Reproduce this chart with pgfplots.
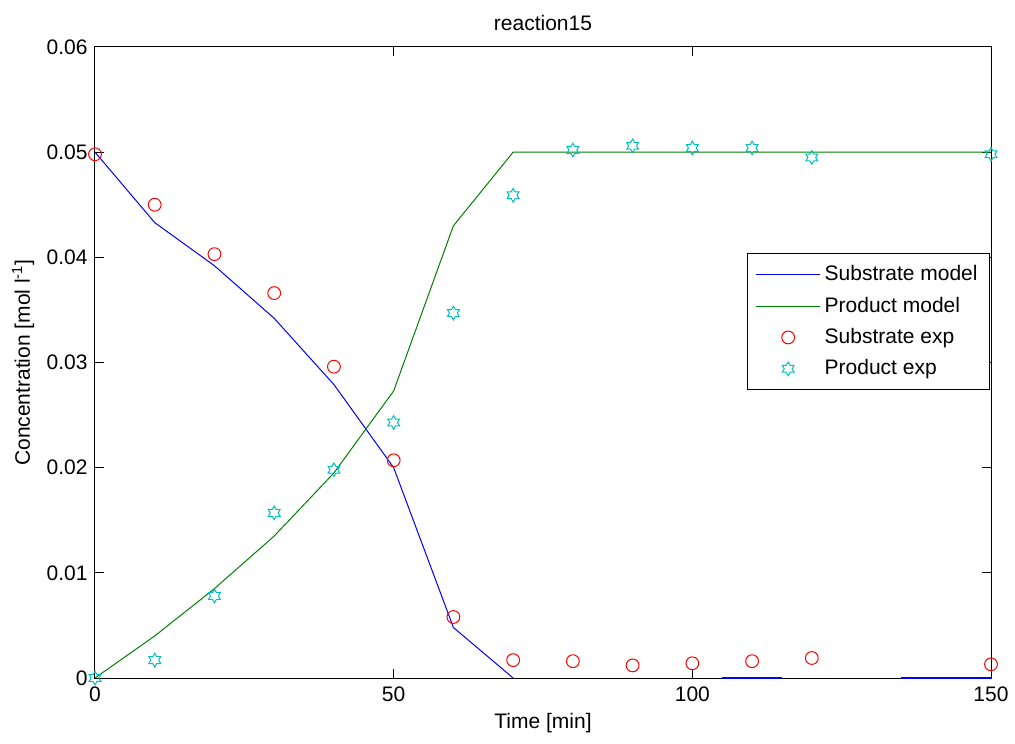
\documentclass[border=0pt]{standalone}
\usepackage{fontspec}
\setmainfont{Liberation Sans}
\usepackage{pgfplots}
\pgfplotsset{compat=1.18}

\definecolor{mblue}{rgb}{0,0,1}
\definecolor{mgreen}{rgb}{0,0.5,0}
\definecolor{mred}{rgb}{1,0,0}
\definecolor{mcyan}{rgb}{0,0.75,0.75}

% six-pointed star outline, like matlab's hexagram marker
\pgfdeclareplotmark{hexagram}{%
  \pgfpathmoveto{\pgfpointpolar{90}{\pgfplotmarksize}}%
  \pgfpathlineto{\pgfpointpolar{120}{0.577\pgfplotmarksize}}%
  \pgfpathlineto{\pgfpointpolar{150}{\pgfplotmarksize}}%
  \pgfpathlineto{\pgfpointpolar{180}{0.577\pgfplotmarksize}}%
  \pgfpathlineto{\pgfpointpolar{210}{\pgfplotmarksize}}%
  \pgfpathlineto{\pgfpointpolar{240}{0.577\pgfplotmarksize}}%
  \pgfpathlineto{\pgfpointpolar{270}{\pgfplotmarksize}}%
  \pgfpathlineto{\pgfpointpolar{300}{0.577\pgfplotmarksize}}%
  \pgfpathlineto{\pgfpointpolar{330}{\pgfplotmarksize}}%
  \pgfpathlineto{\pgfpointpolar{0}{0.577\pgfplotmarksize}}%
  \pgfpathlineto{\pgfpointpolar{30}{\pgfplotmarksize}}%
  \pgfpathlineto{\pgfpointpolar{60}{0.577\pgfplotmarksize}}%
  \pgfpathclose
  \pgfusepathqstroke
}

\begin{document}
\fontsize{10.5}{12}\selectfont
\begin{tikzpicture}
\begin{axis}[
  scale only axis,
  width=448pt, height=315.5pt,
  xmin=0, xmax=150, ymin=0, ymax=0.06,
  xtick={0,50,100,150},
  ytick={0,0.01,0.02,0.03,0.04,0.05,0.06},
  yticklabel style={/pgf/number format/fixed, /pgf/number format/precision=2},
  scaled y ticks=false,
  /pgf/number format/assume math mode=true,
  tick align=inside, major tick length=4.5pt,
  xtick pos=both, ytick pos=both,
  axis line style={black, line width=0.5pt},
  every tick/.style={black, line width=0.5pt},
  tick label style={font=\fontsize{10.5}{12}\selectfont},
  xticklabel style={yshift=-0.5pt},
  yticklabel style={xshift=0pt},
  label style={font=\fontsize{10.5}{12}\selectfont},
  xlabel={Time [min]},
  ylabel={Concentration [mol l\textsuperscript{-1}]},
  xlabel style={yshift=1pt},
  ylabel style={yshift=-1pt},
  title={reaction15},
  title style={font=\fontsize{10.5}{12}\selectfont, yshift=-1.5pt},
  legend style={at={(0.999,0.6735)}, anchor=north east, draw=black,
    line width=0.5pt, font=\fontsize{10.5}{12}\selectfont,
    row sep=2.5pt, inner sep=4pt, cells={anchor=west}},
  legend image code/.code={\draw[mark repeat=2, mark phase=2, #1]
    plot coordinates {(0pt,0pt) (16pt,0pt) (32pt,0pt)};},
  unbounded coords=jump,
  clip=false,
]
\addplot[mblue, line width=0.5pt] coordinates {
  (0,0.0500) (10,0.0433) (20,0.0392) (30,0.0342) (40,0.0279)
  (50,0.0200) (60,0.0048) (70,0.0000)
};
\addlegendentry{Substrate model}
\addplot[mgreen, line width=0.5pt] coordinates {
  (0,0.0000) (10,0.0040) (20,0.0085) (30,0.0135) (40,0.0195)
  (50,0.0273) (60,0.0430) (70,0.0500) (150,0.0500)
};
\addlegendentry{Product model}
\addplot[only marks, mark=o, mark size=3.2pt, mred, line width=0.5pt] coordinates {
  (0,0.0498) (10,0.0450) (20,0.0403) (30,0.0366) (40,0.0296)
  (50,0.0207) (60,0.0058) (70,0.0017) (80,0.0016) (90,0.0012)
  (100,0.0014) (110,0.0016) (120,0.0019) (150,0.0013)
};
\addlegendentry{Substrate exp}
\addplot[only marks, mark=hexagram, mark size=3.4pt, mcyan, line width=0.5pt] coordinates {
  (0,0.0000) (10,0.0017) (20,0.0078) (30,0.0157) (40,0.0198)
  (50,0.0243) (60,0.0347) (70,0.0459) (80,0.0502) (90,0.0506)
  (100,0.0504) (110,0.0504) (120,0.0495) (150,0.0498)
};
\addlegendentry{Product exp}
% parts of the substrate model along the bottom that show over the axis line
\addplot[mblue, line width=1pt, forget plot] coordinates {
  (105,0) (115,0) (nan,nan) (135,0) (150,0)
};
\end{axis}
\pgfresetboundingbox
\path[use as bounding box] (-47.5pt,-32.5pt) rectangle (460pt,339pt);
\end{tikzpicture}
\end{document}
